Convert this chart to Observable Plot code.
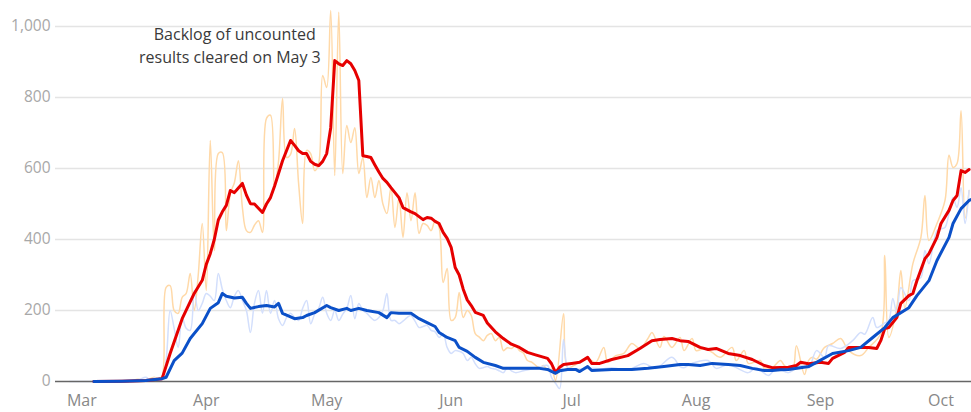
<!DOCTYPE html>
<html>
<head>
<meta charset="utf-8">
<script src="https://cdn.jsdelivr.net/npm/d3@7"></script>
<script src="https://cdn.jsdelivr.net/npm/@observablehq/plot@0.6"></script>
<style>
  html, body { margin: 0; padding: 0; background: #fff; }
</style>
</head>
<body>
<div id="chart"></div>
<script>
// Day numbers are days since 1 March 2020.
const monthLabels = ["Mar", "Apr", "May", "Jun", "Jul", "Aug", "Sep", "Oct"];
const yTicks = [0, 200, 400, 600, 800, 1000];
const annotationLines = ["Backlog of uncounted", "results cleared on May 3"];
const annotationDay = 63;   // May 3
const annotationValues = [977, 913];

// Red: 7-day average
const redAvg = [[3,0],[10,1],[16,3],[20,8],[22,79],[25,177],[28,248],[30,285],[31,330],[32,360],[33,400],[34,455],[35,478],[36,496],[37,538],[38,532],[39,545],[40,558],[41,525],[42,501],[43,500],[45,476],[46,500],[47,518],[48,550],[50,622],[52,679],[53,665],[54,650],[55,642],[56,642],[57,620],[58,612],[59,608],[60,620],[61,642],[62,715],[63,904],[64,895],[65,890],[66,904],[67,895],[68,876],[69,848],[70,636],[71,634],[72,631],[73,610],[74,590],[75,572],[76,561],[77,546],[79,518],[80,490],[82,478],[83,473],[85,456],[86,462],[87,460],[88,451],[89,445],[90,420],[91,403],[92,378],[93,321],[94,300],[95,260],[96,230],[97,214],[98,195],[100,186],[101,165],[103,140],[105,121],[107,105],[109,96],[111,82],[113,75],[116,65],[117,50],[118,25],[119,40],[120,48],[122,51],[124,54],[126,68],[127,51],[129,51],[132,62],[136,73],[139,93],[142,115],[144,118],[147,121],[149,115],[151,113],[154,96],[156,90],[158,93],[161,79],[164,73],[167,62],[170,45],[172,39],[176,40],[178,45],[179,54],[181,50],[184,54],[186,51],[187,65],[190,82],[191,96],[194,96],[196,96],[198,93],[199,115],[200,149],[201,152],[203,180],[204,220],[206,242],[207,248],[208,284],[210,346],[211,360],[213,406],[214,445],[216,482],[217,510],[218,524],[219,594],[220,589],[221,597]];

// Blue: 7-day average
const blueAvg = [[3,0],[10,1],[16,3],[20,8],[21,12],[23,59],[25,80],[27,121],[30,163],[32,206],[34,222],[35,248],[36,240],[38,235],[40,237],[41,220],[42,206],[44,211],[46,214],[48,210],[49,220],[50,192],[53,177],[55,180],[56,186],[58,194],[61,214],[62,208],[64,200],[66,206],[67,200],[69,206],[71,200],[74,194],[76,180],[77,194],[79,192],[82,192],[84,177],[86,166],[88,155],[89,138],[91,124],[93,115],[94,96],[96,85],[98,68],[100,54],[103,45],[105,37],[109,37],[114,37],[116,34],[118,23],[119,30],[121,34],[123,34],[124,28],[126,42],[127,31],[132,34],[137,34],[141,37],[145,42],[147,45],[149,48],[151,48],[154,45],[157,51],[161,48],[164,45],[167,37],[170,31],[172,31],[174,33],[176,34],[179,39],[181,42],[183,54],[187,79],[191,87],[194,96],[197,124],[200,152],[202,180],[206,208],[208,242],[211,284],[213,341],[216,406],[217,445],[219,487],[221,510],[222,515]];

// Red: daily figures (light orange)
const redDaily = [[10,1],[12,2],[14,6],[16,3],[18,12],[19,8],[20,15],[21,265],[22,270],[23,200],[24,192],[25,237],[26,248],[27,304],[28,200],[29,300],[30,445],[31,256],[32,679],[33,369],[34,642],[35,645],[36,425],[37,530],[38,560],[39,622],[40,490],[41,425],[42,420],[43,440],[44,453],[45,420],[46,741],[47,750],[48,547],[49,620],[50,797],[51,631],[52,640],[53,713],[54,558],[55,445],[56,651],[57,642],[58,594],[59,614],[60,862],[61,828],[62,1045],[63,580],[64,1040],[65,586],[66,721],[67,673],[68,715],[69,586],[70,631],[71,518],[72,575],[73,518],[74,566],[75,500],[76,473],[77,547],[78,434],[79,518],[80,406],[81,532],[82,453],[83,532],[84,417],[85,445],[86,440],[87,425],[88,453],[89,434],[90,279],[91,318],[92,172],[93,180],[94,251],[95,180],[96,200],[97,186],[98,135],[99,125],[100,115],[101,130],[102,135],[103,115],[104,124],[105,87],[106,95],[107,93],[108,100],[109,87],[110,80],[111,59],[112,55],[114,39],[115,45],[116,31],[117,35],[118,3],[120,191],[121,39],[123,48],[124,55],[126,65],[128,54],[130,96],[131,54],[133,73],[135,79],[137,107],[139,93],[141,121],[142,138],[144,96],[145,127],[147,96],[149,124],[150,87],[152,121],[153,87],[155,93],[157,82],[159,68],[162,96],[163,59],[165,87],[166,51],[169,59],[170,37],[172,39],[174,59],[175,45],[177,31],[178,101],[180,20],[181,59],[182,68],[183,63],[185,96],[187,107],[189,121],[191,87],[194,73],[196,96],[199,135],[200,355],[201,124],[203,208],[204,313],[205,208],[207,332],[209,406],[210,524],[211,397],[213,445],[215,510],[216,637],[217,603],[218,614],[219,763],[220,460],[221,538]];

// Blue: daily figures (light blue)
const blueDaily = [[-3,0],[3,0],[10,1],[14,5],[16,12],[17,3],[18,10],[19,6],[20,10],[21,60],[22,200],[23,150],[24,96],[25,180],[26,150],[27,144],[28,256],[29,200],[30,220],[31,248],[32,240],[33,228],[34,304],[35,260],[36,228],[37,208],[38,240],[39,256],[40,228],[41,200],[42,138],[43,220],[44,256],[45,192],[46,256],[47,192],[48,228],[49,177],[50,158],[51,180],[52,192],[53,180],[54,172],[55,206],[56,228],[57,163],[58,190],[59,206],[60,237],[61,192],[62,172],[63,200],[64,172],[65,190],[66,206],[67,242],[68,177],[69,220],[70,200],[71,192],[72,180],[73,172],[74,180],[75,200],[76,248],[77,172],[78,172],[79,163],[80,170],[81,180],[82,186],[83,170],[84,152],[85,155],[86,158],[87,144],[88,140],[89,124],[90,135],[91,96],[92,79],[93,87],[94,85],[95,79],[96,59],[97,68],[98,50],[99,37],[100,39],[101,42],[102,37],[103,35],[104,30],[105,25],[106,39],[107,30],[108,25],[110,30],[112,35],[114,40],[116,45],[117,11],[118,-5],[119,-20],[120,118],[121,40],[122,37],[124,35],[127,37],[130,36],[132,39],[134,35],[137,37],[140,51],[143,37],[147,68],[149,42],[150,39],[152,51],[156,59],[158,37],[161,48],[163,39],[166,25],[168,39],[171,17],[173,37],[176,25],[179,45],[181,37],[183,87],[185,68],[186,101],[189,93],[192,115],[194,138],[195,133],[197,180],[198,152],[200,165],[201,172],[202,234],[203,192],[204,265],[206,228],[207,284],[209,293],[210,369],[211,332],[213,425],[214,430],[215,434],[216,473],[217,518],[218,490],[219,546],[220,445],[221,538]];

const BASE = Date.UTC(2020, 2, 1);
const toDate = d => new Date(BASE + d * 864e5);
const rows = pairs => pairs.map(([d, v]) => ({date: toDate(d), value: v}));
const monthTicks = monthLabels.map((_, i) => new Date(Date.UTC(2020, 2 + i, 1)));
const annotationRows = annotationLines.map((t, i) => ({date: toDate(annotationDay), value: annotationValues[i], text: t}));

const chart = Plot.plot({
  width: 971,
  height: 412,
  marginLeft: 55,
  marginRight: 0,
  marginTop: 26,
  marginBottom: 31,
  style: {fontFamily: "'Open Sans', sans-serif", background: "#fff", overflow: "visible"},
  x: {type: "utc", domain: [toDate(-6.55), toDate(221.6)]},
  y: {domain: [0, 1000]},
  marks: [
    Plot.gridY(yTicks.filter(d => d > 0), {stroke: "#e4e4e4", strokeOpacity: 1, strokeWidth: 1.5}),
    Plot.axisY(yTicks, {tickSize: 0, tickPadding: 5, tickFormat: d3.format(","), fontSize: 15.5, fill: "#a8a8a8", label: null}),
    Plot.axisX(monthTicks, {tickSize: 0, tickPadding: 13, tickFormat: (d, i) => monthLabels[i], fontSize: 16, fill: "#888", label: null}),
    Plot.line(rows(redDaily), {x: "date", y: "value", stroke: "#ffd9a8", strokeWidth: 1.5, curve: "catmull-rom"}),
    Plot.line(rows(blueDaily), {x: "date", y: "value", stroke: "#d3dffc", strokeWidth: 1.5, curve: "catmull-rom"}),
    Plot.ruleY([0], {stroke: "#666", strokeWidth: 1.5}),
    Plot.line(rows(redAvg), {x: "date", y: "value", stroke: "#e60000", strokeWidth: 3, strokeLinejoin: "round"}),
    Plot.line(rows(blueAvg), {x: "date", y: "value", stroke: "#0b50c8", strokeWidth: 3, strokeLinejoin: "round"}),
    Plot.text(annotationRows.slice(0, 1), {x: "date", y: "value", text: "text", textAnchor: "end", dx: -19, fontSize: 16, fill: "#3a3a3a"}),
    Plot.text(annotationRows.slice(1), {x: "date", y: "value", text: "text", textAnchor: "end", dx: -14, fontSize: 16, fill: "#3a3a3a"})
  ]
});
document.getElementById("chart").appendChild(chart);
</script>
</body>
</html>
